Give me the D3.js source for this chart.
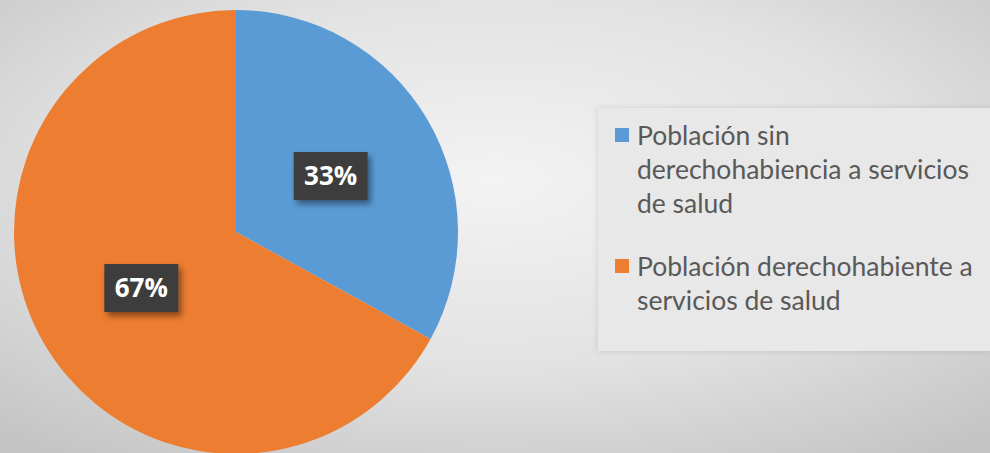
<!DOCTYPE html>
<html>
<head>
<meta charset="utf-8">
<script src="https://cdn.jsdelivr.net/npm/d3@7"></script>
<style>
  html, body { margin: 0; padding: 0; overflow: hidden; }
</style>
</head>
<body>
<div id="chart"></div>
<script>
const categories = [
  ["Población sin", "derechohabiencia a servicios", "de salud"],
  ["Población derechohabiente a", "servicios de salud"]
];
const values = [33, 67];
const labels = ["33%", "67%"];
const colors = ["#5b9bd5", "#ed7d31"];

const cfg = {
  width: 990,
  height: 453,
  cx: 236,
  cy: 232,
  radius: 222,
  labelRadius: 110
};

const svg = d3.select("#chart")
  .append("svg")
  .attr("width", cfg.width)
  .attr("height", cfg.height);

const defs = svg.append("defs");

// background gradient
const bg = defs.append("radialGradient")
  .attr("id", "bg")
  .attr("cx", "50%").attr("cy", "40%").attr("r", "75%");
bg.append("stop").attr("offset", "0%").attr("stop-color", "#f3f3f3");
bg.append("stop").attr("offset", "55%").attr("stop-color", "#e2e2e2");
bg.append("stop").attr("offset", "100%").attr("stop-color", "#c4c4c4");

const shadow = defs.append("filter")
  .attr("id", "shadow")
  .attr("x", "-30%").attr("y", "-30%").attr("width", "160%").attr("height", "160%");
shadow.append("feDropShadow")
  .attr("dx", 3).attr("dy", 4).attr("stdDeviation", 3)
  .attr("flood-color", "#000").attr("flood-opacity", 0.45);

const legendShadow = defs.append("filter")
  .attr("id", "lshadow")
  .attr("x", "-10%").attr("y", "-10%").attr("width", "120%").attr("height", "120%");
legendShadow.append("feDropShadow")
  .attr("dx", 0).attr("dy", 0).attr("stdDeviation", 3)
  .attr("flood-color", "#000").attr("flood-opacity", 0.12);

svg.append("rect")
  .attr("width", cfg.width)
  .attr("height", cfg.height)
  .attr("fill", "url(#bg)");

// pie
const pie = d3.pie().sort(null).value(d => d);
const arc = d3.arc().innerRadius(0).outerRadius(cfg.radius);
const labelArc = d3.arc().innerRadius(cfg.labelRadius).outerRadius(cfg.labelRadius);
const arcs = pie(values);

const g = svg.append("g")
  .attr("transform", `translate(${cfg.cx}, ${cfg.cy})`);

g.selectAll("path.slice")
  .data(arcs)
  .join("path")
  .attr("class", "slice")
  .attr("d", arc)
  .attr("fill", (d, i) => colors[i]);

// data labels
const lab = g.selectAll("g.label")
  .data(arcs)
  .join("g")
  .attr("class", "label")
  .attr("transform", d => `translate(${labelArc.centroid(d)})`);

lab.append("rect")
  .attr("x", -37).attr("y", -24)
  .attr("width", 74).attr("height", 48)
  .attr("fill", "#3d3d3d")
  .attr("filter", "url(#shadow)");

lab.append("text")
  .attr("text-anchor", "middle")
  .attr("dy", "0.36em")
  .attr("fill", "#ffffff")
  .style("font-family", "'Open Sans', sans-serif")
  .style("font-weight", "bold")
  .style("font-size", "26px")
  .text((d, i) => labels[i]);

// legend
const legend = svg.append("g").attr("class", "legend");

legend.append("rect")
  .attr("x", 598).attr("y", 108)
  .attr("width", 392).attr("height", 243)
  .attr("fill", "#e8e8e8")
  .attr("filter", "url(#lshadow)");

const entryY = [128, 259];
const lineH = 34;

const items = legend.selectAll("g.item")
  .data(categories)
  .join("g")
  .attr("class", "item")
  .attr("transform", (d, i) => `translate(615, ${entryY[i]})`);

items.append("rect")
  .attr("width", 14).attr("height", 14)
  .attr("fill", (d, i) => colors[i]);

items.each(function(lines) {
  const t = d3.select(this).append("text")
    .attr("fill", "#595959")
    .style("font-family", "Lato, sans-serif")
    .style("font-size", "26.5px");
  lines.forEach((ln, j) => {
    t.append("tspan")
      .attr("x", 22)
      .attr("y", 17 + j * lineH)
      .text(ln);
  });
});
</script>
</body>
</html>
